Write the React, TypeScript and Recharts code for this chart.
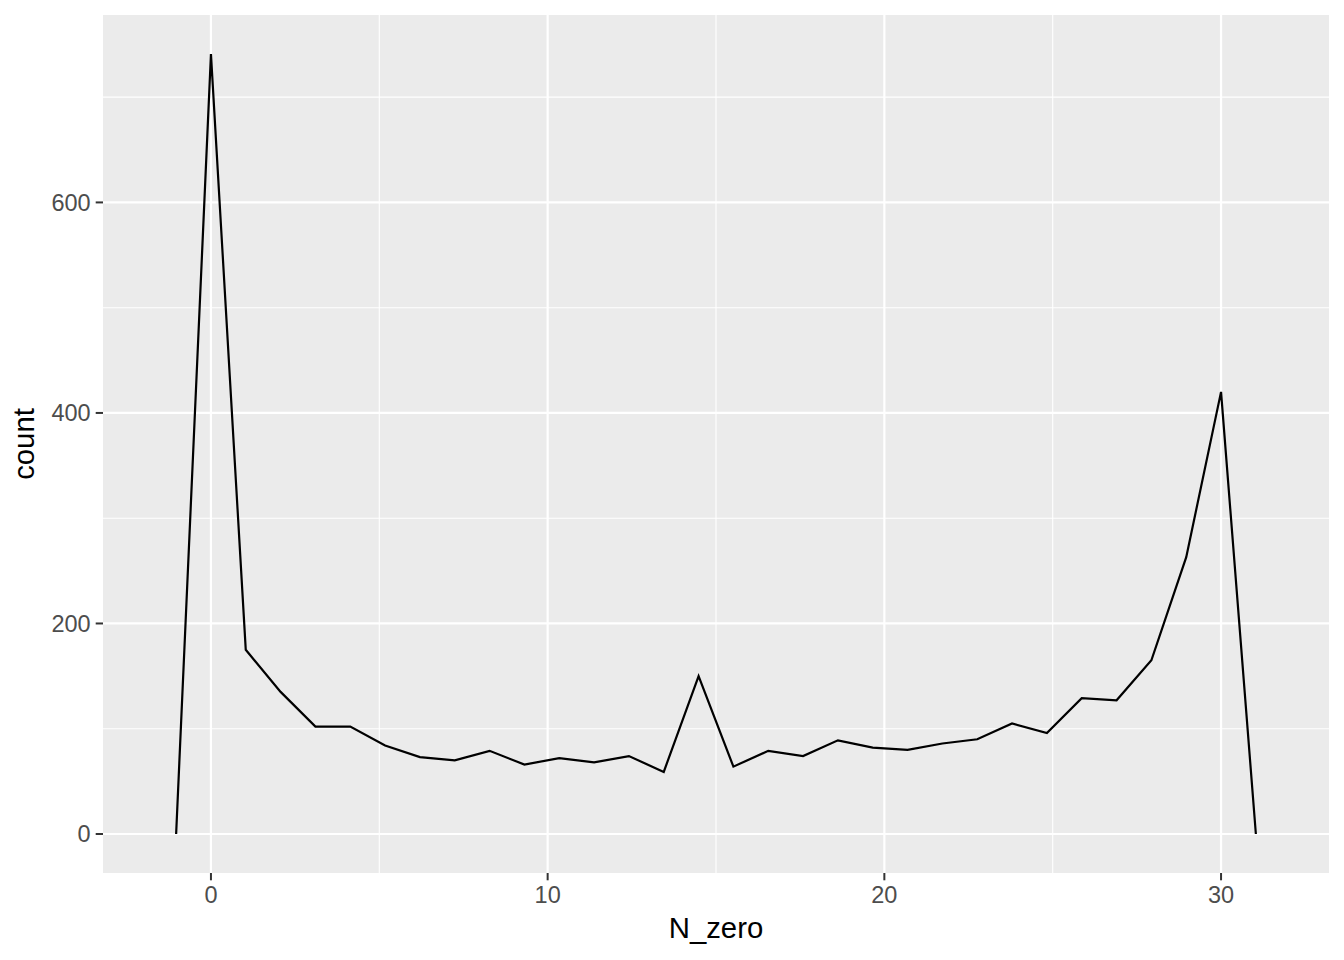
import React from "react";
import { LineChart, Line, XAxis, YAxis, CartesianGrid } from "recharts";

// bin centres of the frequency polygon (N_zero)
const binCenters = [
  -1.034, 0, 1.034, 2.069, 3.103, 4.138, 5.172, 6.207, 7.241, 8.276, 9.31,
  10.345, 11.379, 12.414, 13.448, 14.483, 15.517, 16.552, 17.586, 18.621,
  19.655, 20.69, 21.724, 22.759, 23.793, 24.828, 25.862, 26.897, 27.931,
  28.966, 30.0, 31.034,
];
// counts per bin
const counts = [
  0, 741, 175, 135, 102, 102, 84, 73, 70, 79, 66, 72, 68, 74, 59, 150, 64, 79,
  74, 89, 82, 80, 86, 90, 105, 96, 129, 127, 165, 263, 420, 0,
];
const xTicks = [0, 10, 20, 30];
const xMinor = [5, 15, 25];
const yTicks = [0, 200, 400, 600];
const yMinor = [100, 300, 500, 700];

const data = binCenters.map((x, i) => ({ x, count: counts[i] }));

const bw = binCenters[2] - binCenters[1];
const xLo = Math.min(...binCenters) - bw / 2;
const xHi = Math.max(...binCenters) + bw / 2;
const xPad = (xHi - xLo) * 0.05;
const yMax = Math.max(...counts);
const yMin = Math.min(...counts);
const yPad = (yMax - yMin) * 0.05;

const FONT = "'Liberation Sans', Arial, Helvetica, sans-serif";

export default function App() {
  return (
    <div style={{ position: "absolute", left: 0, top: 0 }}>
      <LineChart
        width={1344}
        height={960}
        data={data}
        margin={{ top: 15, right: 15, bottom: 0, left: 0 }}
      >
        <CartesianGrid
          fill="#EBEBEB"
          fillOpacity={1}
          stroke="#FFFFFF"
          strokeWidth={1.1}
          horizontalValues={yMinor}
          verticalValues={xMinor}
        />
        <CartesianGrid
          stroke="#FFFFFF"
          strokeWidth={2.2}
          horizontalValues={yTicks}
          verticalValues={xTicks}
        />
        <XAxis
          dataKey="x"
          type="number"
          domain={[xLo - xPad, xHi + xPad]}
          ticks={xTicks}
          allowDataOverflow
          height={87}
          axisLine={false}
          tickSize={7.3}
          tickMargin={6}
          tickLine={{ stroke: "#333333", strokeWidth: 2 }}
          tick={{ fill: "#4D4D4D", fontSize: 23.5, fontFamily: FONT }}
          label={{
            value: "N_zero",
            position: "insideBottom",
            offset: 22,
            fill: "#000000",
            fontSize: 29.3,
            fontFamily: FONT,
          }}
        />
        <YAxis
          type="number"
          domain={[yMin - yPad, yMax + yPad]}
          ticks={yTicks}
          allowDataOverflow
          width={103}
          axisLine={false}
          tickSize={7.3}
          tickMargin={5}
          tickLine={{ stroke: "#333333", strokeWidth: 2 }}
          tick={{ fill: "#4D4D4D", fontSize: 23.5, fontFamily: FONT }}
          label={{
            value: "count",
            angle: -90,
            position: "insideLeft",
            offset: 24,
            fill: "#000000",
            fontSize: 29.3,
            fontFamily: FONT,
            style: { textAnchor: "middle" },
          }}
        />
        <Line
          type="linear"
          dataKey="count"
          stroke="#000000"
          strokeWidth={2.2}
          dot={false}
          activeDot={false}
          isAnimationActive={false}
        />
      </LineChart>
    </div>
  );
}
